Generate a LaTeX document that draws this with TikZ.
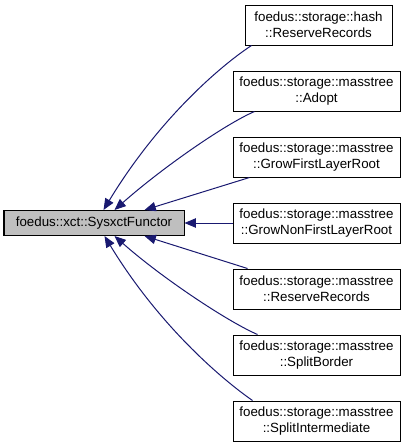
\documentclass[tikz,border=0pt]{standalone}
\usepackage{fontspec}
\setmainfont{Liberation Sans}
\usetikzlibrary{arrows.meta,calc}
\definecolor{edgeblue}{HTML}{191970}
\definecolor{nodegray}{HTML}{BFBFBF}
\begin{document}
\begin{tikzpicture}[x=0.75pt,y=-0.75pt,
  box/.style={draw=black,line width=0.75pt,fill=white,inner sep=0pt,
    minimum width=125.25pt,minimum height=30pt,align=center,
    font=\fontsize{10}{12}\selectfont},
  mainbox/.style={box,fill=nodegray,minimum width=135pt,minimum height=18.75pt},
  link/.style={draw=edgeblue,line width=0.75pt,-{Triangle[length=8.5pt,width=7pt]}}
]
\useasboundingbox (0,0) rectangle (411,444);
\node[mainbox] (m) at (94,223) {foedus::xct::SysxctFunctor};
\node[box,minimum width=110.25pt] (b1) at (318.5,25) {foedus::storage::hash\\::ReserveRecords};
\node[box] (b2) at (316.5,91) {foedus::storage::masstree\\::Adopt};
\node[box] (b3) at (316.5,157) {foedus::storage::masstree\\::GrowFirstLayerRoot};
\node[box] (b4) at (316.5,223) {foedus::storage::masstree\\::GrowNonFirstLayerRoot};
\node[box] (b5) at (316.5,289) {foedus::storage::masstree\\::ReserveRecords};
\node[box] (b6) at (316.5,355) {foedus::storage::masstree\\::SplitBorder};
\node[box] (b7) at (316.5,421) {foedus::storage::masstree\\::SplitIntermediate};

\draw[link] ($(b1.south west)+(7,0)$) .. controls ($(b1.south west)+(-25,21)$) and (158,120) .. ($(m.north west)+(100,0)$);
\draw[link] ($(b2.south west)+(22,0)$) .. controls ($(b2.south west)+(-8,13)$) and (162,168) .. ($(m.north west)+(111,0)$);
\draw[link] ($(b3.south west)+(17,0)$) -- ($(m.north west)+(141,0)$);
\draw[link] (b4.west) -- (m.east);
\draw[link] ($(b5.north west)+(15,0)$) -- ($(m.south west)+(141,0)$);
\draw[link] ($(b6.north west)+(25,0)$) .. controls ($(b6.north west)+(-5,-13)$) and (162,278) .. ($(m.south west)+(111,0)$);
\draw[link] ($(b7.north west)+(20,0)$) .. controls ($(b7.north west)+(-13,-23)$) and (158,324) .. ($(m.south west)+(101,0)$);
\end{tikzpicture}
\end{document}
